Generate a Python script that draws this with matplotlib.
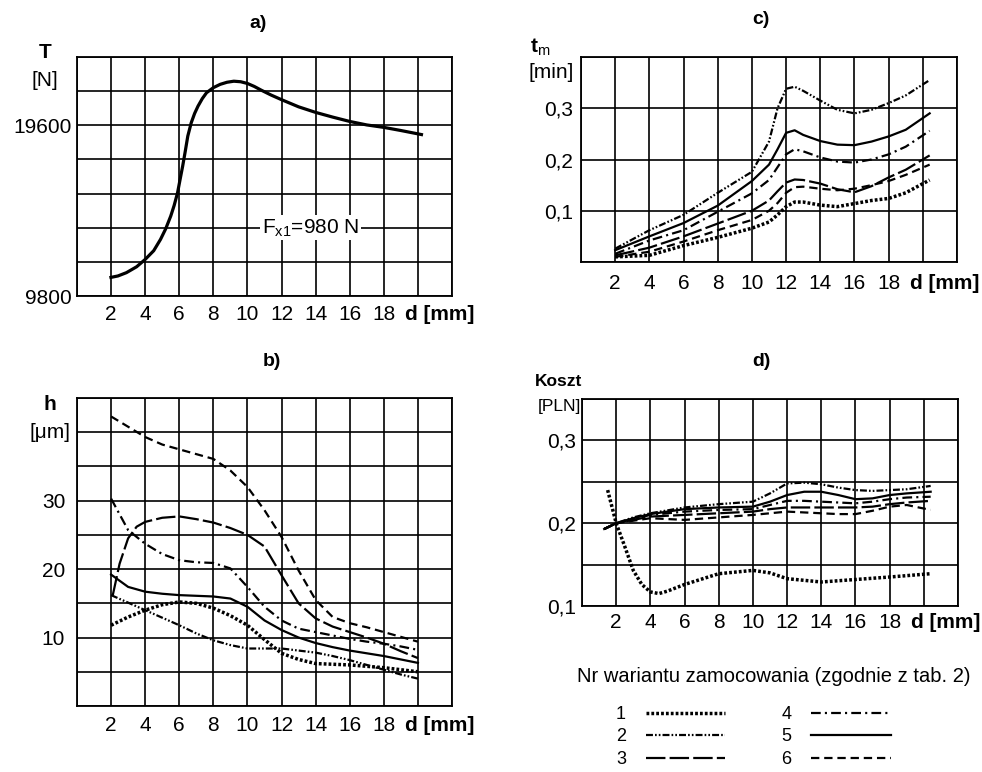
import numpy as np
import matplotlib.pyplot as plt

plt.rcParams['font.family'] = ['Liberation Sans', 'DejaVu Sans']
plt.rcParams['mathtext.fontset'] = 'custom'
plt.rcParams['mathtext.rm'] = 'Liberation Sans'
plt.rcParams['mathtext.bf'] = 'Liberation Sans:bold'
plt.rcParams['lines.scale_dashes'] = False

# ---- a) clamping force T [N] vs d [mm]
d_a = [1.9, 2.4, 2.9, 3.5, 4, 4.5, 4.9, 5.2, 5.5, 5.7, 5.9, 6.05, 6.2, 6.35, 6.5, 6.7,
       6.9, 7.1, 7.35, 7.6, 8, 8.4, 8.8, 9.2, 9.6, 10, 10.4, 10.8, 11.4, 12, 13, 14,
       15, 16, 17, 18, 19, 20.3]
T_a = [10850, 10950, 11140, 11480, 11900, 12400, 13050, 13650, 14390, 15000, 15730,
       16500, 17260, 18100, 18980, 19740, 20280, 20700, 21130, 21470, 21760, 21950,
       22070, 22130, 22100, 22000, 21830, 21620, 21330, 21070, 20660, 20340, 20070,
       19820, 19620, 19480, 19300, 19050]

# ---- b) h [um] vs d, variants 1..6
d_b = [2, 3, 4, 5, 6, 7, 8, 9, 10, 11, 12, 13, 14, 15, 16, 17, 18, 19, 20]
d_b3 = [2.1, 2.5, 3, 3.5, 4, 5, 6, 7, 8, 9, 10, 11, 12, 13, 14, 15, 16, 17, 18, 19, 20]
h1 = [11.8, 13.0, 14.0, 14.8, 15.2, 15.0, 14.3, 13.2, 11.8, 9.7, 7.7, 6.8, 6.2, 6.1, 6.0, 5.8, 5.6, 5.3, 5.0]
h2 = [16.2, 15.1, 14.0, 12.9, 11.8, 10.6, 9.6, 8.9, 8.4, 8.4, 8.4, 8.1, 7.8, 7.3, 6.7, 6.0, 5.3, 4.6, 4.0]
h3 = [16.2, 20.8, 24.5, 26.2, 26.9, 27.5, 27.7, 27.3, 26.8, 26.0, 25.0, 23.3, 19.1, 15.0, 12.8,
      11.6, 10.8, 10.0, 9.1, 8.0, 7.0]
h4 = [30.3, 25.7, 23.7, 22.2, 21.3, 21.0, 20.9, 20.1, 17.4, 14.5, 12.5, 11.3, 10.8, 10.3, 9.8, 9.4, 9.1, 8.7, 8.2]
h5 = [19.2, 17.4, 16.7, 16.4, 16.2, 16.1, 16.0, 15.7, 14.5, 12.5, 11.1, 10.0, 9.2, 8.6, 8.1, 7.7, 7.3, 6.8, 6.3]
h6 = [42.3, 40.8, 39.3, 38.2, 37.5, 36.8, 36.1, 34.4, 32.0, 28.6, 24.7, 19.8, 15.5, 13.0, 12.1, 11.5, 10.8, 10.1, 9.4]

# ---- c) machining time tm [min] vs d
d_c = [2, 4, 6, 8, 10, 11, 11.5, 12, 12.5, 13, 14, 15, 16, 17, 18, 19, 20.4]
tm1 = [0.010, 0.013, 0.032, 0.048, 0.066, 0.078, 0.092, 0.108, 0.117, 0.117, 0.111, 0.108, 0.114, 0.120, 0.124, 0.135, 0.160]
tm2 = [0.026, 0.062, 0.092, 0.135, 0.176, 0.235, 0.300, 0.338, 0.342, 0.334, 0.315, 0.297, 0.290, 0.297, 0.310, 0.325, 0.355]
tm3 = [0.013, 0.028, 0.050, 0.075, 0.100, 0.120, 0.138, 0.155, 0.161, 0.160, 0.153, 0.142, 0.136, 0.148, 0.165, 0.180, 0.208]
tm4 = [0.016, 0.042, 0.062, 0.098, 0.134, 0.160, 0.185, 0.210, 0.220, 0.216, 0.204, 0.196, 0.194, 0.200, 0.210, 0.225, 0.256]
tm5 = [0.023, 0.050, 0.076, 0.110, 0.158, 0.190, 0.220, 0.252, 0.257, 0.248, 0.236, 0.229, 0.228, 0.235, 0.245, 0.258, 0.290]
tm6 = [0.010, 0.020, 0.040, 0.062, 0.082, 0.100, 0.115, 0.135, 0.146, 0.147, 0.143, 0.140, 0.143, 0.150, 0.158, 0.170, 0.190]

# ---- d) cost [PLN] vs d
d_d = [1.3, 2, 3, 4, 6, 8, 10, 11, 12, 13, 14, 15, 16, 17, 18, 19, 20.4]
d_d1 = [1.5, 2, 2.5, 3, 3.5, 4, 4.5, 5, 6, 8, 10, 11, 12, 14, 16, 18, 20.4]
k1 = [0.240, 0.200, 0.172, 0.143, 0.126, 0.117, 0.115, 0.118, 0.126, 0.139, 0.143, 0.140, 0.133, 0.129, 0.132, 0.135, 0.139]
k2 = [0.193, 0.200, 0.207, 0.212, 0.219, 0.223, 0.226, 0.236, 0.248, 0.249, 0.247, 0.243, 0.240, 0.239, 0.240, 0.241, 0.245]
k3 = [0.193, 0.200, 0.204, 0.208, 0.210, 0.212, 0.214, 0.217, 0.219, 0.219, 0.219, 0.219, 0.219, 0.220, 0.223, 0.225, 0.227]
k4 = [0.193, 0.200, 0.205, 0.210, 0.214, 0.216, 0.217, 0.222, 0.227, 0.227, 0.226, 0.225, 0.224, 0.226, 0.229, 0.231, 0.232]
k5 = [0.193, 0.200, 0.206, 0.211, 0.217, 0.219, 0.220, 0.226, 0.234, 0.238, 0.238, 0.234, 0.229, 0.230, 0.234, 0.236, 0.238]
k6 = [0.193, 0.200, 0.203, 0.206, 0.204, 0.207, 0.210, 0.212, 0.214, 0.213, 0.212, 0.211, 0.211, 0.215, 0.220, 0.222, 0.216]

variant_names = ['1', '2', '3', '4', '5', '6']
legend_title = 'Nr wariantu zamocowania (zgodnie z tab. 2)'

# line styles of the 6 variants
styles = [
    dict(ls=(0, (2, 1.5)), lw=2.5),
    dict(ls=(0, (5, 1.5, 1.2, 1.5, 1.2, 1.5)), lw=1.6),
    dict(ls=(0, (14, 3)), lw=1.6),
    dict(ls=(0, (7, 3, 1.5, 3)), lw=1.6),
    dict(ls='-', lw=1.6),
    dict(ls=(0, (6, 3.5)), lw=1.6),
]

W, H = 982, 772
fig = plt.figure(figsize=(W / 100, H / 100), dpi=100)


def grid_axes(box, ylim, ystep, ylabels, xpad, ypad):
    # box in pixels: left, top, right, bottom
    l, t, r, b = box
    ax = fig.add_axes([l / W, 1 - b / H, (r - l) / W, (b - t) / H])
    xt = np.arange(0, 23, 2)
    ax.set_xticks(xt)
    ax.set_xticklabels(['' if v in (0, 20, 22) else str(v) for v in xt])
    ax.set_xlim(0, 22)
    yt = np.linspace(ylim[0], ylim[1], int(round((ylim[1] - ylim[0]) / ystep)) + 1)
    ax.set_yticks(yt)
    ax.set_yticklabels(ylabels)
    ax.set_ylim(*ylim)
    ax.grid(True, color='black', lw=1.2)
    ax.set_axisbelow(True)
    ax.tick_params(length=0, labelsize=15)
    ax.tick_params(axis='x', pad=xpad)
    ax.tick_params(axis='y', pad=ypad)
    for s in ax.spines.values():
        s.set_linewidth(1.3)
    ax.annotate('d [mm]', xy=(19.25, 0), xycoords=('data', 'axes fraction'),
                xytext=(0, -xpad), textcoords='offset points',
                ha='left', va='top', fontsize=15, fontweight='bold')
    return ax


# a)
ax_a = grid_axes((77, 57, 452, 296), (9800, 9800 + 7 * 1960), 1960,
                 ['9800', '', '', '', '', '19600', '', ''], 6.5, 3.5)
ax_a.plot(d_a, T_a, color='black', lw=2.3, solid_capstyle='butt')
ax_a.text(13.7, 9800 + 2 * 1960, r'F$_{\mathregular{x1}}$=980 N', fontsize=15,
          ha='center', va='center',
          bbox=dict(facecolor='white', edgecolor='none', pad=1))

# b)
ax_b = grid_axes((77, 398, 452, 706), (0, 45), 5,
                 ['', '', '10', '', '20', '', '30', '', '', ''], 7, 8.5)
ax_b.plot(d_b, h1, color='black', **styles[0])
ax_b.plot(d_b, h2, color='black', **styles[1])
ax_b.plot(d_b3, h3, color='black', **styles[2])
ax_b.plot(d_b, h4, color='black', **styles[3])
ax_b.plot(d_b, h5, color='black', **styles[4])
ax_b.plot(d_b, h6, color='black', **styles[5])

# c)
ax_c = grid_axes((581, 57, 957, 262), (0, 0.4), 0.1,
                 ['', '0,1', '0,2', '0,3', ''], 8.5, 6)
lines_c = []
for y, st in zip([tm1, tm2, tm3, tm4, tm5, tm6], styles):
    lines_c += ax_c.plot(d_c, y, color='black', **st)

# d)
ax_d = grid_axes((582, 399, 958, 606), (0.1, 0.35), 0.05,
                 ['0,1', '', '0,2', '', '0,3', ''], 5, 4.5)
ax_d.plot(d_d1, k1, color='black', **styles[0])
for y, st in zip([k2, k3, k4, k5, k6], styles[1:]):
    ax_d.plot(d_d, y, color='black', **st)

# titles and axis names
def ftext(x, y, s, **kw):
    fig.text(x / W, 1 - y / H, s, ha='center', va='center', **kw)


ftext(258, 23, 'a)', fontsize=14, fontweight='bold')
ftext(761, 20, 'c)', fontsize=14, fontweight='bold')
ftext(272, 362, 'b)', fontsize=14, fontweight='bold')
ftext(761, 362, 'd)', fontsize=14, fontweight='bold')

ftext(45, 52, 'T', fontsize=15, fontweight='bold')
ftext(45, 80, '[N]', fontsize=15)
ftext(540, 47, r'$\mathbf{t}_{\mathregular{m}}$', fontsize=15)
ftext(551, 73, '[min]', fontsize=15)
ftext(50, 405, 'h', fontsize=15, fontweight='bold')
ftext(50, 433, '[μm]', fontsize=15)
ftext(559, 382, 'Koszt', fontsize=12.5, fontweight='bold')
ftext(559, 407, '[PLN]', fontsize=12.5)

# legend
ftext(774, 677, legend_title, fontsize=14.5)
fig.legend(lines_c, variant_names, ncol=2, markerfirst=False, frameon=False,
           fontsize=13, handlelength=4.4, handletextpad=1.1, columnspacing=3.1,
           labelspacing=0.3, borderpad=0, borderaxespad=0,
           loc='upper left', bbox_to_anchor=(616 / W, 1 - 706 / H))

fig.savefig('out.png', dpi=100)
